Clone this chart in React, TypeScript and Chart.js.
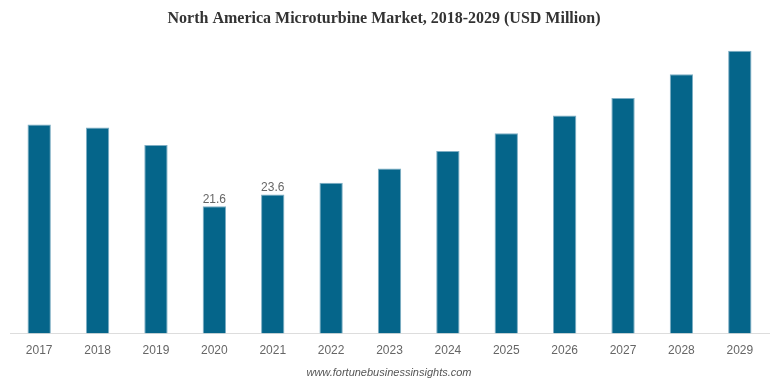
import React, { useEffect, useRef } from "react";
import { Chart, registerables } from "chart.js";

Chart.register(...registerables);

const categories = ["2017", "2018", "2019", "2020", "2021", "2022", "2023", "2024", "2025", "2026", "2027", "2028", "2029"];
const values = [35.5, 35.0, 32.0, 21.6, 23.6, 25.6, 28.0, 31.0, 34.0, 37.0, 40.0, 44.0, 48.0];
const shownLabels = ["", "", "", "21.6", "23.6", "", "", "", "", "", "", "", ""];
const titleText = "North America Microturbine Market, 2018-2029 (USD Million)";
const footerText = "www.fortunebusinessinsights.com";

export default function App() {
  const ref = useRef<HTMLCanvasElement | null>(null);

  useEffect(() => {
    if (!ref.current) return;
    const textPlugin = {
      id: "texts",
      afterDraw(chart: any) {
        const ctx = chart.ctx;
        ctx.save();
        ctx.textAlign = "center";
        ctx.textBaseline = "middle";
        ctx.fillStyle = "#333333";
        ctx.font = "bold 16px 'Liberation Serif', serif";
        ctx.fillText(titleText, 384, 19);
        ctx.fillStyle = "#555555";
        ctx.font = "italic 11px 'Liberation Sans', Arial, sans-serif";
        ctx.fillText(footerText, 389, 373);
        const meta = chart.getDatasetMeta(0);
        ctx.fillStyle = "#666666";
        ctx.font = "12px 'Liberation Sans', Arial, sans-serif";
        ctx.textBaseline = "bottom";
        meta.data.forEach((bar: any, i: number) => {
          if (shownLabels[i]) ctx.fillText(shownLabels[i], bar.x, bar.y - 1);
        });
        ctx.restore();
      },
    };
    const chart = new Chart(ref.current, {
      type: "bar",
      data: {
        labels: categories,
        datasets: [
          {
            data: values,
            backgroundColor: "#05658a",
            borderColor: "#7eaec4",
            borderWidth: 1,
            barPercentage: 0.4,
            categoryPercentage: 1,
          },
        ],
      },
      options: {
        animation: false,
        responsive: false,
        layout: { padding: { top: 39, left: 10, right: 2, bottom: 17 } },
        plugins: { legend: { display: false }, tooltip: { enabled: false }, title: { display: false } },
        scales: {
          x: {
            grid: { display: false, drawTicks: false },
            border: { display: true, color: "#dddddd", width: 1 },
            ticks: { color: "#666666", padding: 10, font: { size: 12, family: "'Liberation Sans', Arial, sans-serif" } },
          },
          y: { display: false, min: 0, max: 50 },
        },
      },
      plugins: [textPlugin],
    });
    return () => chart.destroy();
  }, []);

  return (
    <div style={{ position: "fixed", left: 0, top: 0, width: 771, height: 385, background: "#fff" }}>
      <canvas ref={ref} width={771} height={385} />
    </div>
  );
}
